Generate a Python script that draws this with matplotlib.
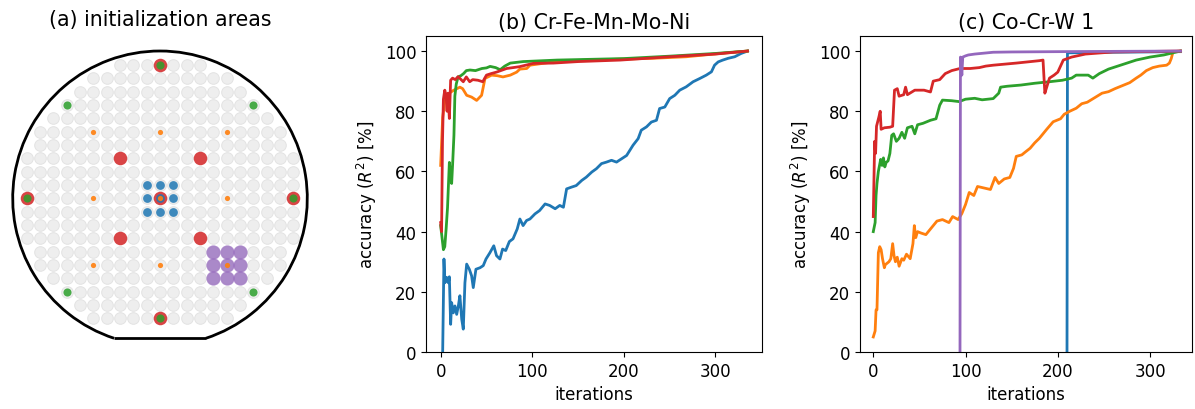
import matplotlib
matplotlib.use("Agg")
import matplotlib.pyplot as plt
import numpy as np
from matplotlib.patches import Arc

plt.rcParams['font.family'] = ['DejaVu Sans']
plt.rcParams['font.size'] = 12

# ---------------- data ----------------
titles = ["(a) initialization areas", "(b) Cr-Fe-Mn-Mo-Ni", "(c) Co-Cr-W 1"]
xlabel = "iterations"
ylabel = "accuracy ($R^2$) [%]"
yticks = [0, 20, 40, 60, 80, 100]
xticks = [0, 100, 200, 300]

# wafer grid: rows from top (+10) to bottom (-9) and their half widths (in cells)
wafer_rows = [10, 9, 8, 7, 6, 5, 4, 3, 2, 1, 0, -1, -2, -3, -4, -5, -6, -7, -8, -9]
wafer_halfwidths = [3, 5, 6, 7, 8, 9, 9, 10, 10, 10, 10, 10, 10, 10, 9, 9, 8, 7, 6, 5]

red_pts = [(0, 10), (0, -9), (-10, 0), (10, 0), (-3, 3), (3, 3), (-3, -3), (3, -3), (0, 0)]
green_pts = [(0, 10), (0, -9), (-10, 0), (10, 0), (-7, 7), (7, 7), (-7, -7), (7, -7)]
blue_pts = [(-1, 1), (0, 1), (1, 1), (-1, 0), (0, 0), (1, 0), (-1, -1), (0, -1), (1, -1)]
purple_pts = [(4, -4), (5, -4), (6, -4), (4, -5), (5, -5), (6, -5), (4, -6), (5, -6), (6, -6)]
orange_pts = [(-5, 5), (0, 5), (5, 5), (-5, 0), (0, 0), (5, 0), (-5, -5), (0, -5), (5, -5)]

# panel (b) Cr-Fe-Mn-Mo-Ni
b_blue_x = [2.2, 3.6, 4.7, 6.5, 8.4, 9.5, 10.9, 12, 13.8, 15.6, 17.5, 19.3, 21, 23, 24.7, 26.5, 28.4, 31.3, 33.8, 35.6, 38.5, 43, 46.5, 49.5, 53.8, 58, 61, 64.7, 67.6, 71, 75, 79, 83.6, 86.5, 90, 93.8, 97.5, 103, 108, 114, 119, 125, 130, 134, 137.5, 143, 148, 154, 159, 165, 170, 175.6, 181, 186.5, 192, 197.5, 203, 206.5, 210, 215.6, 219, 224.7, 230, 235.6, 239, 244.7, 250, 255.6, 261, 268, 275.6, 283, 290, 295.6, 299, 303, 308, 314, 321, 328, 335]
b_blue_y = [0, 30.9, 23, 24.8, 23, 25, 9.2, 16.4, 13, 15.3, 12.5, 15.3, 18.7, 10.9, 7.6, 23, 29.2, 27.5, 25.3, 21.4, 27.5, 28, 28.7, 30.9, 33, 35.3, 32, 30.9, 34.2, 33.7, 36.7, 37.6, 40.9, 44.2, 42, 43.7, 44.2, 45.9, 47, 49.2, 48.7, 47.6, 48.7, 48.1, 54.2, 54.8, 55.3, 57, 58.1, 59.8, 60.9, 62.6, 63.1, 63.7, 63.1, 64.2, 65.3, 67, 68.7, 70.9, 73.7, 74.8, 76.4, 77, 80.9, 81.4, 84.2, 85.3, 87, 88.1, 89.8, 90.9, 92, 93.1, 95.3, 96.4, 97, 97.6, 98.1, 99.2, 100]

b_orange_x = [0, 2.2, 4.7, 8.4, 13.8, 21, 24, 28.4, 33.8, 39.3, 44.7, 48.4, 55.6, 62, 68, 76, 83, 86.5, 94, 97.5, 123, 159, 196, 232, 268, 305, 335]
b_orange_y = [62, 78, 83.6, 85.8, 86.9, 88, 87.5, 85.3, 84.7, 83.6, 85.3, 90.9, 92, 91.8, 91.4, 92, 93, 94, 94.2, 95.3, 96.4, 97, 97.3, 97.6, 98.1, 99.2, 100]

b_green_x = [0, 1.5, 3, 4.5, 6, 7.5, 9.5, 10.5, 12, 13, 14.5, 15.5, 17, 19, 22, 25, 28, 32, 38, 45, 50, 54, 60, 65, 70, 76, 90, 127, 200, 250, 300, 335]
b_green_y = [42, 38, 34, 35, 41, 48, 63, 60, 56, 62, 72, 85, 89, 91.4, 91.8, 92.5, 93.5, 93.7, 93.5, 94.2, 94.4, 94.9, 94.5, 93.8, 95, 96, 96.5, 97, 97.5, 98.3, 99.2, 100]

b_red_x = [0, 1, 2, 3, 4.5, 6, 7, 8, 9.5, 10.9, 13, 16, 19, 21, 24.7, 28, 31.7, 35, 40.7, 46, 50, 55, 61, 72, 86, 101, 123, 150, 196, 250, 300, 335]
b_red_y = [43, 40, 70, 84, 87, 85, 80, 86, 77.6, 90.3, 91, 90.5, 91.5, 90.9, 89.8, 91.4, 89.8, 90.5, 90.3, 89.8, 92, 92.5, 93, 94.2, 94.8, 95.9, 96, 96.5, 97, 98.1, 99, 100]

# panel (c) Co-Cr-W 1
c_blue_x = [210, 210.5, 260, 333]
c_blue_y = [0, 99.4, 99.6, 99.8]

c_orange_x = [0, 2, 3, 4, 5.5, 7, 8.5, 10, 12, 13, 17, 19, 21, 22.5, 24, 26, 28, 31, 33, 36, 40, 43, 44.5, 46, 48, 52, 57, 61, 65, 69, 75, 82, 86, 92, 96, 100, 104, 109, 113, 120, 127, 132, 136, 142, 148, 152, 155, 161, 165, 170, 175, 180, 188, 195, 203, 207, 213, 220, 226, 232, 240, 248, 255, 262, 270, 278, 285, 290, 296, 303, 310, 318, 321, 323, 325, 333]
c_orange_y = [5, 7, 14, 14, 33, 35, 34, 31, 28, 29, 30, 31, 36, 32, 30, 31.5, 28.5, 31, 30.5, 32.5, 31, 36, 42, 38, 40, 39.5, 39, 40.5, 42, 43.5, 44, 43, 45, 44, 46, 49, 53, 52, 55, 54.5, 54, 58, 56, 57.5, 58, 61, 65, 65.5, 66.5, 67.7, 69.5, 71, 74, 76.5, 77.5, 79, 80, 81, 82.5, 83, 84.5, 86, 86.5, 87.5, 88.5, 89.5, 91, 92, 93.5, 94.5, 95, 95.3, 96, 97.5, 99.8, 100]

c_green_x = [0, 2, 3, 4, 5.5, 8, 9.5, 11, 12.5, 14, 16, 18, 20, 22, 25, 28, 31, 34, 37, 42, 45, 48, 54, 62, 68, 72, 75, 85, 93, 100, 110, 118, 130, 136, 138, 145, 160, 175, 191, 205, 215, 220, 233, 238, 245, 255, 270, 285, 300, 315, 333]
c_green_y = [40, 43, 52, 56, 60, 64, 62, 64.5, 61.5, 63, 63.5, 66, 72, 72.5, 70, 71, 73, 71, 74.5, 75, 72.5, 75.5, 76, 77, 77.5, 82, 83.7, 83.5, 83.2, 84, 84.3, 83.8, 84.2, 86, 88, 88.3, 88.7, 89.3, 89.8, 90.3, 91, 92, 92, 91, 92.5, 94, 95.5, 97, 98, 98.7, 100]

c_red_x = [0, 1.5, 2.5, 3.5, 6, 7.5, 8.5, 12, 18, 21, 23, 26, 28, 33, 35, 37, 45, 55, 62, 65, 72, 78, 85, 94, 105, 115, 122, 130, 155, 180, 184, 186, 188, 191, 196, 200, 206, 215, 230, 260, 333]
c_red_y = [45, 70, 66, 75, 78, 80, 74, 74.5, 74.7, 75, 87, 87.5, 85, 85.5, 88, 85.5, 87, 87, 86.4, 90, 90.5, 92.5, 93.5, 94.2, 94.2, 94.5, 95, 95.3, 96, 96.8, 97, 86, 88, 91, 92, 93, 97, 98, 99, 99.7, 100]

c_purple_x = [94, 94.5, 96, 97, 100, 103, 110, 130, 150, 200, 333]
c_purple_y = [0, 98, 92, 98, 98.4, 98.7, 99, 99.6, 99.7, 99.8, 100]

# ---------------- figure ----------------
W, H = 1195, 410
fig = plt.figure(figsize=(W / 100, H / 100), dpi=100)
TITLE_FS = 14.8

def rect(l, t, r, b):
    return [l / W, 1 - b / H, (r - l) / W, (b - t) / H]

# (a) wafer
axa = fig.add_axes(rect(0, 37, 320, 353))
cx, cy, cell = 160, 199.3, 13.33
axa.set_xlim((0 - cx) / cell, (320 - cx) / cell)
axa.set_ylim((cy - 353) / cell, (cy - 37) / cell)
axa.axis('off')

gx, gy = [], []
for r, hw in zip(wafer_rows, wafer_halfwidths):
    for c in range(-hw, hw + 1):
        gx.append(c)
        gy.append(r)
axa.scatter(gx, gy, s=70, facecolor='#eeeeee', edgecolor='#e3e3e3', linewidth=0.7, zorder=1)

def pts(p):
    return [q[0] for q in p], [q[1] for q in p]

axa.scatter(*pts(red_pts), s=95, color='tab:red', alpha=0.85, linewidth=0, zorder=2)
axa.scatter(*pts(green_pts), s=34, color='tab:green', alpha=0.85, linewidth=0, zorder=3)
axa.scatter(*pts(blue_pts), s=40, color='tab:blue', alpha=0.85, linewidth=0, zorder=4)
axa.scatter(*pts(purple_pts), s=105, color='tab:purple', alpha=0.75, linewidth=0, zorder=5)
axa.scatter(*pts(orange_pts), s=14, color='tab:orange', alpha=0.9, linewidth=0, zorder=6)

R = 11.05
yflat = -10.5
theta0 = np.degrees(np.arcsin(yflat / R))
half = np.sqrt(R**2 - yflat**2)
arc = Arc((0, 0), 2 * R, 2 * R, theta1=theta0, theta2=180 - theta0, color='black', lw=2, zorder=7)
axa.add_patch(arc)
axa.plot([-half, half], [yflat, yflat], color='black', lw=2, zorder=7, solid_capstyle='butt')
axa.set_title(titles[0], pad=8, fontsize=TITLE_FS)

# (b)
axb = fig.add_axes(rect(426, 37, 762, 353))
axb.plot(b_blue_x, b_blue_y, color='tab:blue', lw=2)
axb.plot(b_orange_x, b_orange_y, color='tab:orange', lw=2)
axb.plot(b_green_x, b_green_y, color='tab:green', lw=2)
axb.plot(b_red_x, b_red_y, color='tab:red', lw=2)
axb.set_xlim(-16.0, 350.8)

# (c)
axc = fig.add_axes(rect(860, 37, 1192, 353))
axc.plot(c_blue_x, c_blue_y, color='tab:blue', lw=2)
axc.plot(c_orange_x, c_orange_y, color='tab:orange', lw=2)
axc.plot(c_green_x, c_green_y, color='tab:green', lw=2)
axc.plot(c_red_x, c_red_y, color='tab:red', lw=2)
axc.plot(c_purple_x, c_purple_y, color='tab:purple', lw=2)
axc.set_xlim(-14.4, 345.5)

for ax, t in ((axb, titles[1]), (axc, titles[2])):
    ax.set_ylim(0, 105)
    ax.set_yticks(yticks)
    ax.set_xticks(xticks)
    ax.set_xlabel(xlabel)
    ax.set_ylabel(ylabel)
    ax.set_title(t, fontsize=TITLE_FS)

fig.savefig("out.png", dpi=100)
